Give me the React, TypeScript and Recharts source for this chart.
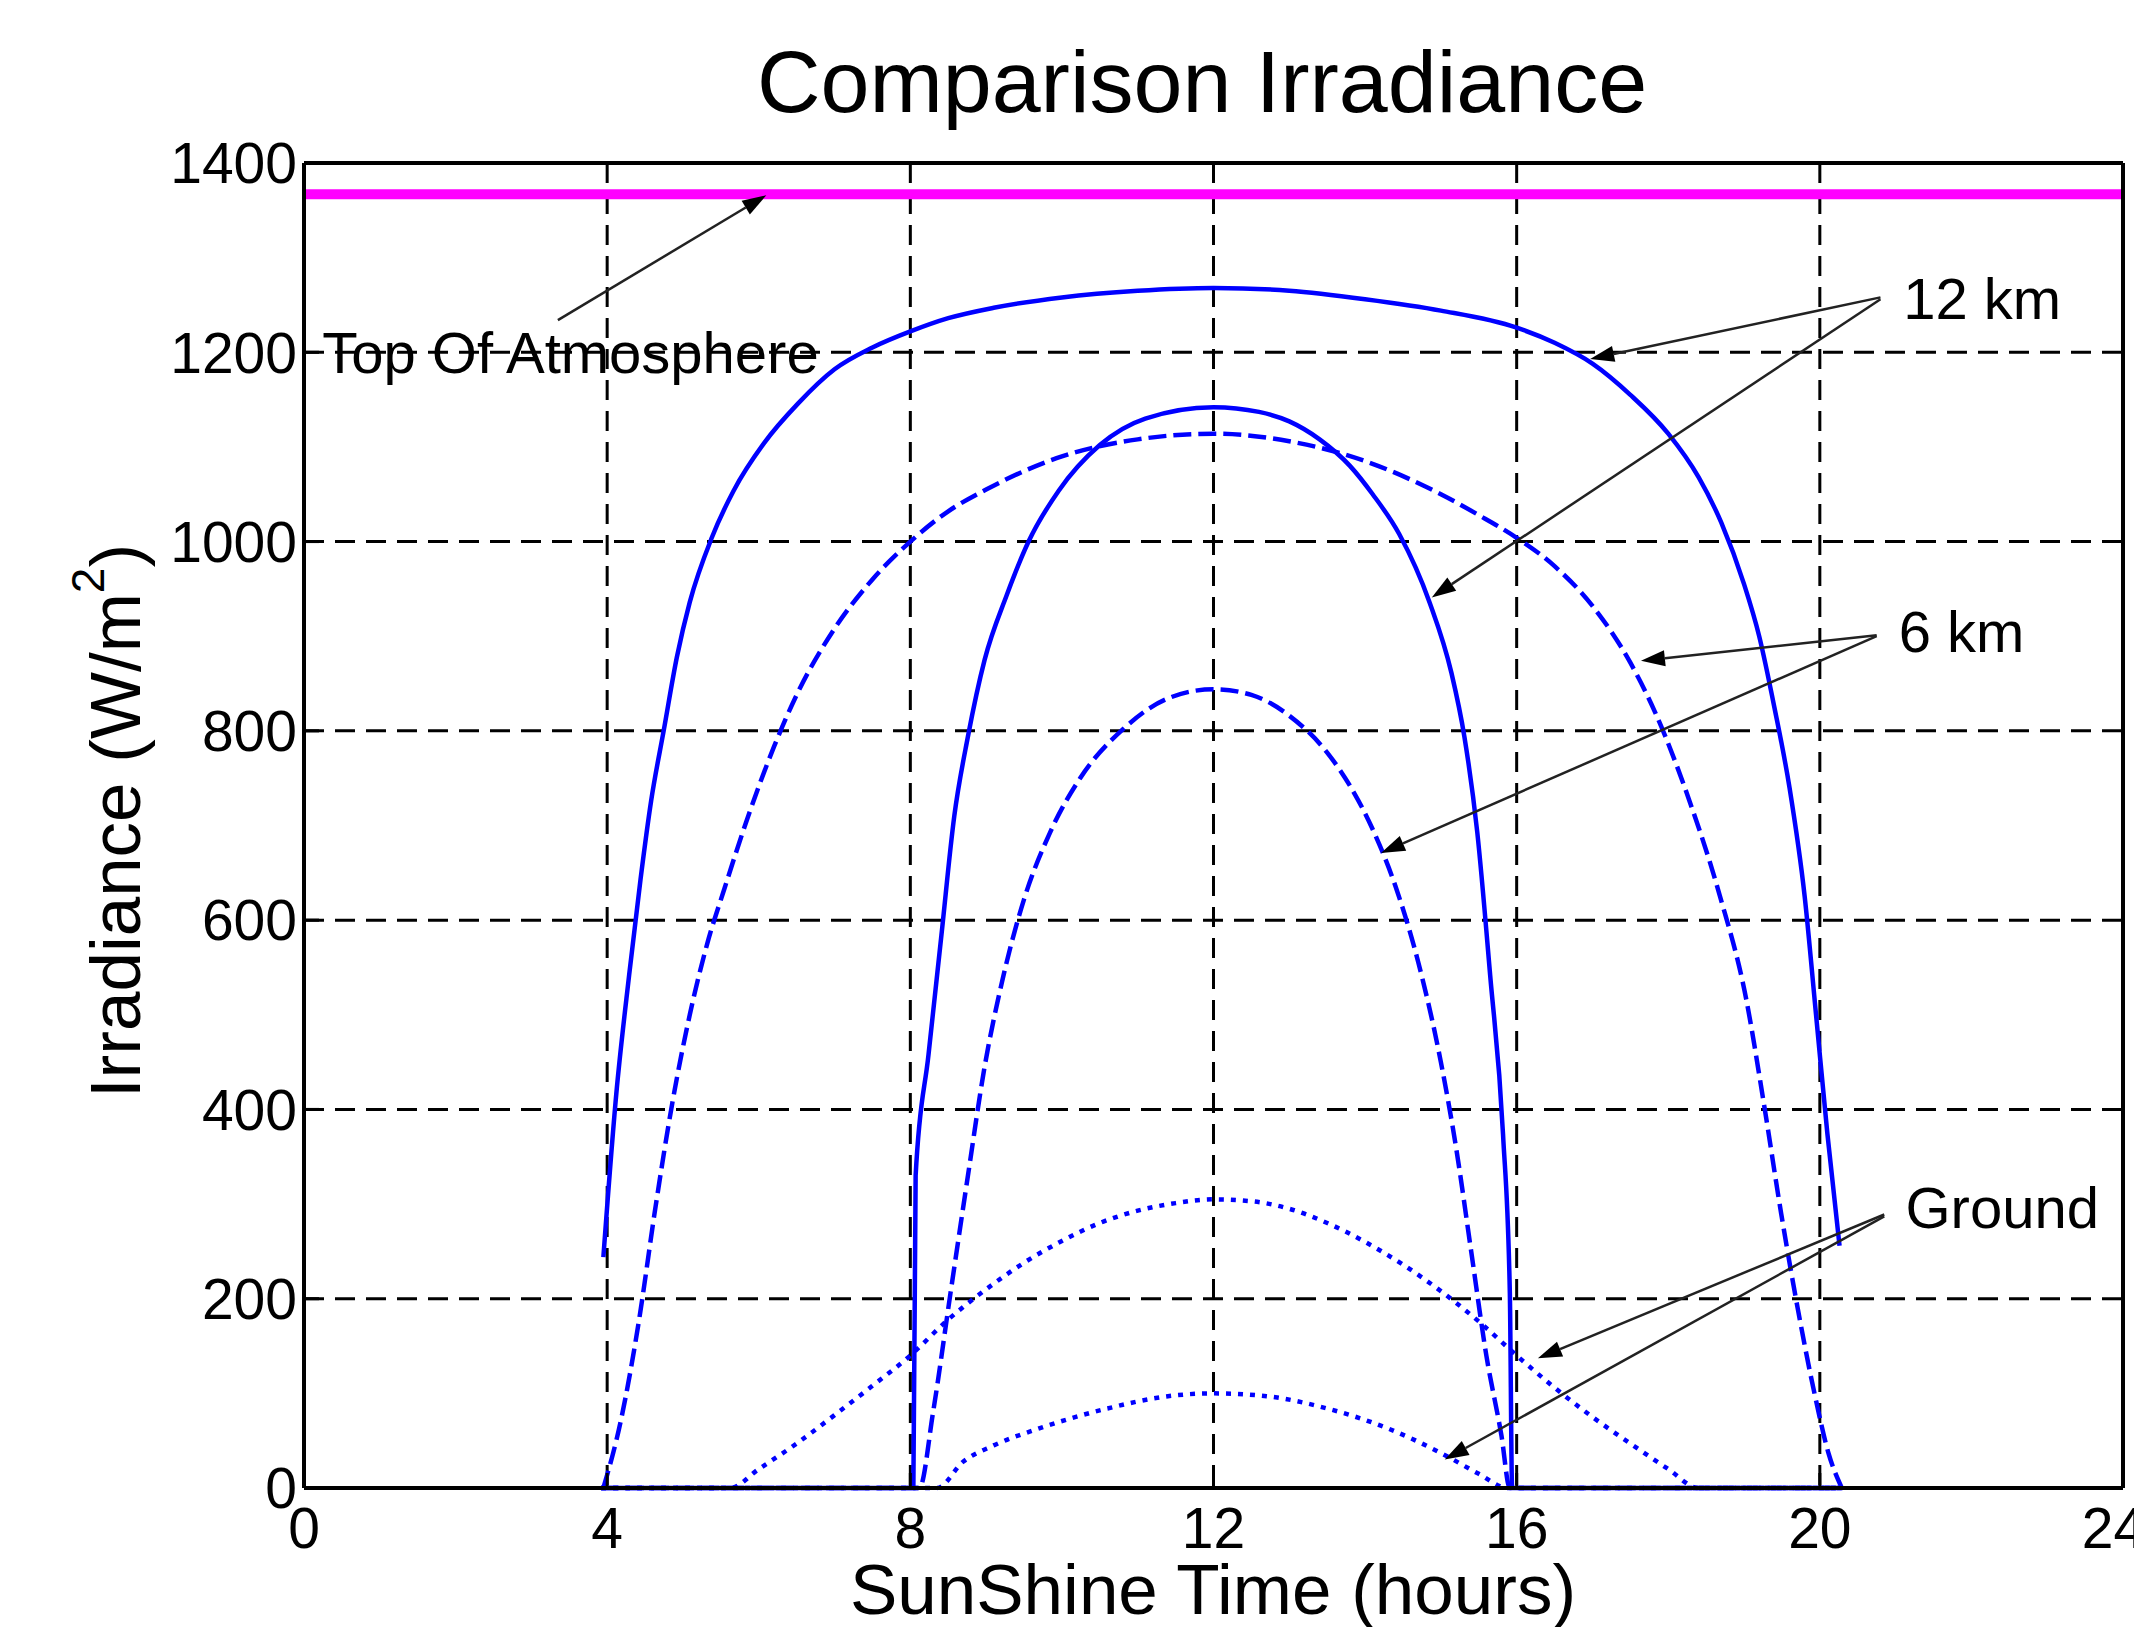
import { LineChart, Line, XAxis, YAxis, CartesianGrid, ReferenceLine, ReferenceDot } from "recharts";

const FONT = "'Liberation Sans', Arial, Helvetica, sans-serif";

// hours of sunshine vs irradiance (W/m^2)
const topOfAtmosphere = [
  { t: 0, v: 1367 },
  { t: 24, v: 1367 },
];

const summer12km = [
  [3.95, 244], [4.12, 416], [4.29, 542], [4.44, 643], [4.58, 726], [4.75, 802],
  [4.92, 878], [5.09, 936], [5.38, 1004], [5.67, 1054], [6.07, 1104], [6.52, 1146],
  [7.0, 1182], [7.5, 1205], [8.0, 1222], [8.5, 1236], [9.1, 1247], [10.0, 1258],
  [11.0, 1265], [12.0, 1268], [13.0, 1265], [14.0, 1256], [15.0, 1244], [16.0, 1226],
  [16.5, 1210], [17.0, 1188], [17.5, 1155], [18.0, 1114], [18.4, 1068], [18.7, 1020],
  [19.0, 955], [19.2, 900], [19.4, 825], [19.6, 740], [19.8, 625], [19.95, 500],
  [20.1, 374], [20.26, 256],
];

const winter12km = [
  [3.92, 0], [8.04, 0], [8.07, 330], [8.24, 458], [8.41, 584], [8.58, 710], [8.76, 794],
  [8.98, 875], [9.27, 943], [9.56, 1000], [9.96, 1054], [10.5, 1102], [11.1, 1130],
  [12.0, 1142], [12.6, 1137], [13.0, 1127], [13.4, 1108], [13.8, 1080], [14.1, 1050],
  [14.45, 1008], [14.85, 936], [15.14, 861], [15.31, 794], [15.48, 693], [15.65, 542],
  [15.82, 374], [15.91, 206], [15.94, 0], [20.3, 0],
];

const summer6km = [
  [3.95, 0], [4.18, 71], [4.41, 172], [4.64, 298], [4.86, 407], [5.09, 500], [5.32, 575],
  [5.55, 634], [5.84, 705], [6.2, 783], [6.5, 838], [7.0, 908], [7.5, 960], [8.0, 1000],
  [8.5, 1032], [9.0, 1055], [10.0, 1090], [11.0, 1108], [12.0, 1114], [13.0, 1106],
  [14.0, 1085], [15.0, 1050], [15.5, 1028], [16.0, 1004], [16.5, 974], [17.0, 932],
  [17.5, 872], [17.83, 819], [18.28, 726], [18.68, 626], [19.03, 516], [19.26, 407],
  [19.49, 290], [19.71, 189], [19.94, 96], [20.11, 38], [20.29, 0],
];

const winter6km = [
  [3.92, 0], [8.12, 0], [8.3, 80], [8.53, 206], [8.76, 330], [8.98, 445], [9.21, 535],
  [9.5, 622], [9.84, 692], [10.24, 750], [10.81, 802], [11.39, 834], [12.0, 844],
  [12.5, 838], [13.0, 816], [13.5, 777], [13.8, 742], [14.1, 696], [14.4, 636],
  [14.7, 556], [15.0, 450], [15.2, 360], [15.4, 250], [15.6, 140], [15.8, 55],
  [15.91, 0], [20.3, 0],
];

const summerGround = [
  [3.92, 0], [5.62, 0], [6.0, 20], [6.5, 47], [7.0, 77], [7.5, 108], [8.0, 140], [8.5, 178],
  [9.0, 210], [9.5, 238], [10.0, 261], [10.5, 280], [11.0, 293], [11.5, 301], [12.0, 305],
  [12.5, 303], [13.0, 295], [13.5, 280], [14.0, 260], [14.5, 236], [15.0, 208], [15.5, 176],
  [16.0, 140], [16.5, 106], [17.0, 75], [17.5, 47], [18.0, 20], [18.4, 0], [20.3, 0],
];

const winterGround = [
  [3.92, 0], [8.35, 0], [8.7, 28], [9.1, 45], [9.7, 63], [10.6, 84], [11.4, 97], [12.0, 100],
  [12.7, 97], [13.5, 84], [14.3, 63], [15.0, 37], [15.5, 15], [15.88, 0], [20.3, 0],
];

const xTicks = [0, 4, 8, 12, 16, 20, 24];
const yTicks = [0, 200, 400, 600, 800, 1000, 1200, 1400];

// annotation arrows: [fromHour, fromValue, toHour, toValue]
const arrows = [
  [3.35, 1234, 6.1, 1366],
  [20.8, 1258, 16.97, 1193],
  [20.8, 1256, 14.88, 941],
  [20.75, 901, 17.64, 874],
  [20.75, 900, 14.21, 671],
  [20.85, 289, 16.28, 137],
  [20.85, 287, 15.05, 30],
];

const noteTexts = ["Top Of Atmosphere", "12 km", "6 km", "Ground"];
const noteHours = [0.24, 21.1, 21.04, 21.13];
const noteValues = [1200, 1257, 905, 296];

const pts = (rows: number[][]) => rows.map(([t, v]) => ({ t, v }));

const W = 2134;
const H = 1619;
const BLUE = "#0000ff";

function Arrow(props: any) {
  const { x1, y1, x2, y2 } = props;
  const ang = Math.atan2(y2 - y1, x2 - x1);
  const len = 24;
  const half = 8;
  const bx = x2 - len * Math.cos(ang);
  const by = y2 - len * Math.sin(ang);
  const px = -Math.sin(ang) * half;
  const py = Math.cos(ang) * half;
  return (
    <g>
      <line x1={x1} y1={y1} x2={bx} y2={by} stroke="#222" strokeWidth={2.5} />
      <polygon points={`${x2},${y2} ${bx + px},${by + py} ${bx - px},${by - py}`} fill="#000" />
    </g>
  );
}

export default function App() {
  const tickStyle = { fill: "#000", fontSize: 57, fontFamily: FONT };
  const axisLine = { stroke: "#000", strokeWidth: 4 };
  const tickLine = { stroke: "#000", strokeWidth: 3 };
  return (
    <div style={{ position: "relative", width: W, height: H }}>
      <LineChart width={W} height={H} margin={{ top: 154, right: 18, bottom: 138, left: 295 }}>
        <CartesianGrid xAxisId="b" yAxisId="l" stroke="#000" strokeWidth={3} strokeDasharray="20 11" />
        <XAxis
          xAxisId="b"
          type="number"
          dataKey="t"
          domain={[0, 24]}
          ticks={xTicks}
          height={1}
          tick={tickStyle}
          tickSize={-15}
          tickMargin={35}
          axisLine={axisLine}
          tickLine={tickLine}
        />
        <XAxis
          xAxisId="top"
          orientation="top"
          type="number"
          dataKey="t"
          domain={[0, 24]}
          ticks={xTicks}
          height={1}
          tick={false}
          tickSize={-15}
          axisLine={axisLine}
          tickLine={tickLine}
        />
        <YAxis
          yAxisId="l"
          type="number"
          domain={[0, 1400]}
          ticks={yTicks}
          width={1}
          tick={tickStyle}
          tickSize={-15}
          tickMargin={22}
          axisLine={axisLine}
          tickLine={tickLine}
        />
        <YAxis
          yAxisId="r"
          orientation="right"
          type="number"
          domain={[0, 1400]}
          ticks={yTicks}
          width={1}
          tick={false}
          tickSize={-15}
          axisLine={axisLine}
          tickLine={tickLine}
        />

        <Line xAxisId="b" yAxisId="l" data={topOfAtmosphere} dataKey="v" type="linear"
          stroke="#ff00ff" strokeWidth={10} dot={false} isAnimationActive={false} />
        <Line xAxisId="b" yAxisId="l" data={pts(summerGround)} dataKey="v" type="monotone"
          stroke={BLUE} strokeWidth={4.5} strokeDasharray="5 7" dot={false} isAnimationActive={false} />
        <Line xAxisId="b" yAxisId="l" data={pts(winterGround)} dataKey="v" type="monotone"
          stroke={BLUE} strokeWidth={4.5} strokeDasharray="5 7" dot={false} isAnimationActive={false} />
        <Line xAxisId="b" yAxisId="l" data={pts(summer6km)} dataKey="v" type="monotone"
          stroke={BLUE} strokeWidth={4.5} strokeDasharray="18 7" dot={false} isAnimationActive={false} />
        <Line xAxisId="b" yAxisId="l" data={pts(winter6km)} dataKey="v" type="monotone"
          stroke={BLUE} strokeWidth={4.5} strokeDasharray="18 7" dot={false} isAnimationActive={false} />
        <Line xAxisId="b" yAxisId="l" data={pts(summer12km)} dataKey="v" type="monotone"
          stroke={BLUE} strokeWidth={4.5} dot={false} isAnimationActive={false} />
        <Line xAxisId="b" yAxisId="l" data={pts(winter12km)} dataKey="v" type="monotone"
          stroke={BLUE} strokeWidth={4.5} dot={false} isAnimationActive={false} />

        {arrows.map(([a, b, c, d], i) => (
          <ReferenceLine
            key={`ar${i}`}
            xAxisId="b"
            yAxisId="l"
            segment={[{ x: a, y: b }, { x: c, y: d }]}
            shape={Arrow}
          />
        ))}
        {noteTexts.map((txt, i) => (
          <ReferenceDot
            key={`nt${i}`}
            xAxisId="b"
            yAxisId="l"
            x={noteHours[i]}
            y={noteValues[i]}
            r={0}
            fill="none"
            stroke="none"
            label={{ value: txt, position: "right", offset: 0, fontSize: 58, fill: "#000", fontFamily: FONT }}
          />
        ))}
      </LineChart>

      <svg width={W} height={H} style={{ position: "absolute", left: 0, top: 0, pointerEvents: "none" }}>
        <text x={1194} y={104} textAnchor="middle" fontFamily={FONT} fontSize={88} fill="#000">
          Comparison Irradiance
        </text>
        <text x={1205} y={1606} textAnchor="middle" fontFamily={FONT} fontSize={71} fill="#000">
          SunShine Time (hours)
        </text>
        <text transform="translate(132,813) rotate(-90)" textAnchor="middle" fontFamily={FONT} fontSize={71} fill="#000">
          Irradiance (W/m
          <tspan fontSize={46} dy={-36}>2</tspan>
          <tspan dy={36}>)</tspan>
        </text>
      </svg>
    </div>
  );
}
